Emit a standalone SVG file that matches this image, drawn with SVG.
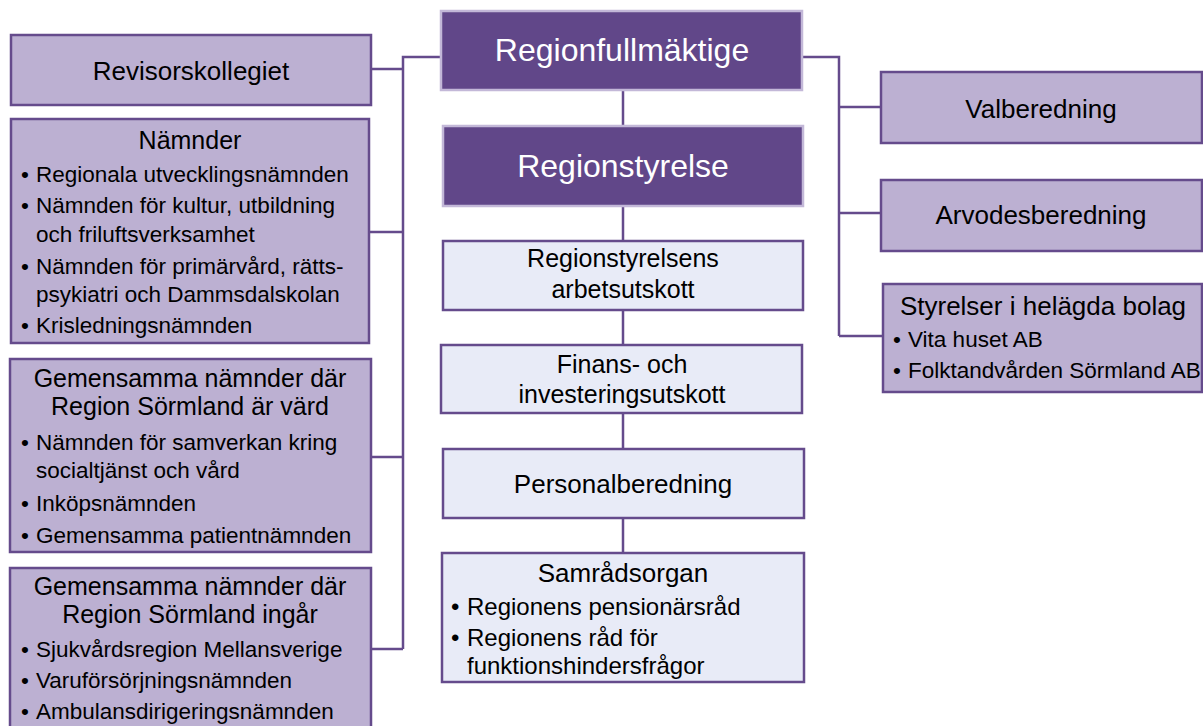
<svg xmlns="http://www.w3.org/2000/svg" width="1203" height="726" viewBox="0 0 1203 726">
<style>
.lbox{fill:#bcb0d2;stroke:#654b8c;stroke-width:2.5}
.dbox{fill:#614789;stroke:#c3b8d8;stroke-width:2.5}
.pbox{fill:#e8ebf7;stroke:#654b8c;stroke-width:2.5}
.con{fill:none;stroke:#654b8c;stroke-width:2.5}
text{font-family:"Liberation Sans",Arial,sans-serif;fill:#000}
.t26{font-size:26px}
.t25{font-size:25px}
.t22{font-size:22.5px}
.t24{font-size:24px}
.w{fill:#fff;font-size:32px}
.c{text-anchor:middle}
</style>
<g id="connectors">
<path class="con" d="M441,57 H403 V649 M371,69 H403 M369,232 H403 M371,457 H403 M371,649 H403"/>
<path class="con" d="M802,57 H839 V336 M839,107 H881 M839,213 H881 M839,336 H883"/>
<path class="con" d="M623,90 V553"/>
</g>
<g id="revisorskollegiet">
<rect class="lbox" x="11" y="35" width="360" height="70"/>
<text class="t26 c" x="191" y="80">Revisorskollegiet</text>
</g>
<g id="namnder">
<rect class="lbox" x="11" y="119" width="358" height="224"/>
<text class="t25 c" x="190" y="149">Nämnder</text>
<text class="t22" x="21" y="182">•</text><text class="t22" x="36" y="182">Regionala utvecklingsnämnden</text>
<text class="t22" x="21" y="213">•</text><text class="t22" x="36" y="213">Nämnden för kultur, utbildning</text>
<text class="t22" x="36" y="242">och friluftsverksamhet</text>
<text class="t22" x="21" y="274">•</text><text class="t22" x="36" y="274">Nämnden för primärvård, rätts-</text>
<text class="t22" x="36" y="302">psykiatri och Dammsdalskolan</text>
<text class="t22" x="21" y="333">•</text><text class="t22" x="36" y="333">Krisledningsnämnden</text>
</g>
<g id="gemensamma-vard">
<rect class="lbox" x="10" y="359" width="361" height="193"/>
<text class="t25 c" x="190" y="387">Gemensamma nämnder där</text>
<text class="t25 c" x="190" y="415">Region Sörmland är värd</text>
<text class="t22" x="21" y="450">•</text><text class="t22" x="36" y="450">Nämnden för samverkan kring</text>
<text class="t22" x="36" y="478">socialtjänst och vård</text>
<text class="t22" x="21" y="511">•</text><text class="t22" x="36" y="511">Inköpsnämnden</text>
<text class="t22" x="21" y="543">•</text><text class="t22" x="36" y="543">Gemensamma patientnämnden</text>
</g>
<g id="gemensamma-ingar">
<rect class="lbox" x="10" y="568" width="361" height="170"/>
<text class="t25 c" x="190" y="595">Gemensamma nämnder där</text>
<text class="t25 c" x="190" y="623">Region Sörmland ingår</text>
<text class="t22" x="21" y="657">•</text><text class="t22" x="36" y="657">Sjukvårdsregion Mellansverige</text>
<text class="t22" x="21" y="688">•</text><text class="t22" x="36" y="688">Varuförsörjningsnämnden</text>
<text class="t22" x="21" y="719">•</text><text class="t22" x="36" y="719">Ambulansdirigeringsnämnden</text>
</g>
<g id="regionfullmaktige">
<rect class="dbox" x="441" y="11" width="361" height="79"/>
<text class="w c" x="622" y="61">Regionfullmäktige</text>
</g>
<g id="regionstyrelse">
<rect class="dbox" x="443" y="126" width="360" height="80"/>
<text class="w c" x="623" y="177">Regionstyrelse</text>
</g>
<g id="arbetsutskott">
<rect class="pbox" x="443" y="241" width="360" height="69"/>
<text class="t25 c" x="623" y="267">Regionstyrelsens</text>
<text class="t25 c" x="623" y="298">arbetsutskott</text>
</g>
<g id="finans">
<rect class="pbox" x="441" y="345" width="361" height="68"/>
<text class="t25 c" x="622" y="373">Finans- och</text>
<text class="t25 c" x="622" y="403">investeringsutskott</text>
</g>
<g id="personalberedning">
<rect class="pbox" x="443" y="449" width="361" height="69"/>
<text class="t26 c" x="623" y="493">Personalberedning</text>
</g>
<g id="samradsorgan">
<rect class="pbox" x="442" y="553" width="362" height="129"/>
<text class="t26 c" x="623" y="582">Samrådsorgan</text>
<text class="t24" x="451" y="615">•</text><text class="t24" x="467" y="615">Regionens pensionärsråd</text>
<text class="t24" x="451" y="646">•</text><text class="t24" x="467" y="646">Regionens råd för</text>
<text class="t24" x="467" y="674">funktionshindersfrågor</text>
</g>
<g id="valberedning">
<rect class="lbox" x="881" y="72" width="321" height="71"/>
<text class="t26 c" x="1041" y="118">Valberedning</text>
</g>
<g id="arvodesberedning">
<rect class="lbox" x="881" y="180" width="321" height="71"/>
<text class="t26 c" x="1041" y="224">Arvodesberedning</text>
</g>
<g id="styrelser">
<rect class="lbox" x="883" y="284" width="319" height="108"/>
<text class="t26 c" x="1043" y="315">Styrelser i helägda bolag</text>
<text class="t22" x="893" y="347">•</text><text class="t22" x="908" y="347">Vita huset AB</text>
<text class="t22" x="893" y="378">•</text><text class="t22" x="908" y="378">Folktandvården Sörmland AB</text>
</g>
</svg>
